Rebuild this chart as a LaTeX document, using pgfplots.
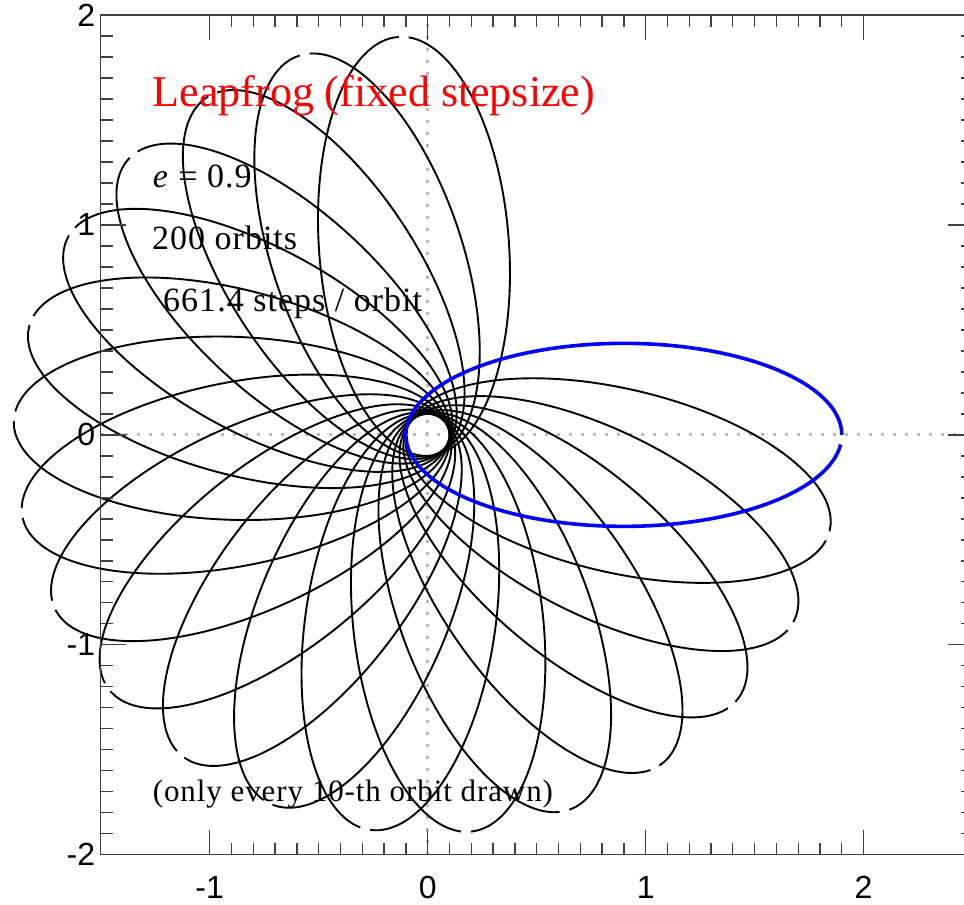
\documentclass[border=0pt]{standalone}
\usepackage{fontspec}
\setmainfont{Liberation Serif}
\newfontfamily\notefont[LetterSpace=3]{Liberation Serif}
\newfontfamily\labelfont{Liberation Sans}
\usepackage{pgfplots}
\pgfplotsset{compat=1.18}
\usepackage{pgfplotstable}

% One Kepler orbit (a = 1, e = 0.9), started at apocentre, focus at the origin
\pgfplotstableread{
x y
1.9000 0.0000
1.8962 0.0380
1.8848 0.0757
1.8659 0.1128
1.8397 0.1491
1.8063 0.1842
1.7660 0.2180
1.7192 0.2500
1.6660 0.2802
1.6071 0.3082
1.5428 0.3339
1.4736 0.3571
1.4000 0.3775
1.3226 0.3951
1.2420 0.4096
1.1588 0.4211
1.0737 0.4293
0.9872 0.4342
0.9000 0.4359
0.8128 0.4342
0.7264 0.4293
0.6412 0.4211
0.5580 0.4096
0.4774 0.3951
0.4000 0.3775
0.3264 0.3571
0.2572 0.3339
0.1929 0.3082
0.1340 0.2802
0.0808 0.2500
0.0340 0.2180
-0.0063 0.1842
-0.0397 0.1491
-0.0659 0.1128
-0.0848 0.0757
-0.0962 0.0380
-0.1000 0.0000
-0.0962 -0.0380
-0.0848 -0.0757
-0.0659 -0.1128
-0.0397 -0.1491
-0.0063 -0.1842
0.0340 -0.2180
0.0808 -0.2500
0.1340 -0.2802
0.1929 -0.3082
0.2572 -0.3339
0.3264 -0.3571
0.4000 -0.3775
0.4774 -0.3951
0.5580 -0.4096
0.6412 -0.4211
0.7264 -0.4293
0.8128 -0.4342
0.9000 -0.4359
0.9872 -0.4342
1.0737 -0.4293
1.1588 -0.4211
1.2420 -0.4096
1.3226 -0.3951
1.4000 -0.3775
1.4736 -0.3571
1.5428 -0.3339
1.6071 -0.3082
1.6660 -0.2802
1.7192 -0.2500
1.7660 -0.2180
1.8063 -0.1842
1.8397 -0.1491
1.8659 -0.1128
1.8848 -0.0757
1.8945 -0.0456
}\orbit

\begin{document}
\begin{tikzpicture}
\begin{axis}[
  scale only axis, width=872pt, height=840pt,
  xmin=-1.5, xmax=2.5, ymin=-2, ymax=2,
  clip=false, axis on top,
  xtick={-1,0,1,2}, ytick={-2,-1,0,1,2},
  minor tick num=9,
  tick align=inside,
  major tick length=25pt, minor tick length=12pt,
  tick style={line width=1.3pt, black!75},
  axis line style={line width=1.3pt, black!75},
  ticklabel style={font=\labelfont\fontsize{32}{38}\selectfont},
  /pgf/number format/assume math mode=true,
  xticklabel style={yshift=-18pt},
  yticklabel style={xshift=-2pt},
]
% zero lines
\addplot[gray!55, line width=3pt, dash pattern=on 3pt off 9pt] coordinates {(-1.5,0) (2.5,0)};
\addplot[gray!55, line width=3pt, dash pattern=on 3pt off 9pt] coordinates {(0,-2) (0,2)};

% every 10th orbit: apocentre direction (degrees) of each drawn orbit
\pgfplotsinvokeforeach{-14,-28,-42,-56,-70,-84,-98,-112,-126,-140,-154,-168,-182,-196,-210,-224,-238,-252,-266}{
  \addplot[black, line width=1.9pt, smooth] table[
    x expr={\thisrow{x}*cos(#1)-\thisrow{y}*sin(#1)},
    y expr={\thisrow{x}*sin(#1)+\thisrow{y}*cos(#1)}] {\orbit};
}
% first orbit
\addplot[blue, line width=3.6pt, smooth] table[x=x, y=y] {\orbit};

\node[anchor=base west, inner sep=0pt, text=red, font=\fontsize{44}{50}\selectfont] at (axis cs:-1.262,1.562) {Leapfrog (fixed stepsize)};
\node[anchor=base west, inner sep=0pt, font=\notefont\fontsize{34}{40}\selectfont] at (axis cs:-1.262,1.176) {\textit{e} = 0.9};
\node[anchor=base west, inner sep=0pt, font=\notefont\fontsize{34}{40}\selectfont] at (axis cs:-1.265,0.881) {200 orbits};
\node[anchor=base west, inner sep=0pt, font=\notefont\fontsize{34}{40}\selectfont] at (axis cs:-1.214,0.586) {661.4 steps / orbit};
\node[anchor=base west, inner sep=0pt, font=\notefont\fontsize{31}{36}\selectfont] at (axis cs:-1.262,-1.748) {(only every 10-th orbit drawn)};

\coordinate (bbsw) at (axis cs:-1.962,-2.238);
\coordinate (bbne) at (axis cs:2.4605,2.071);
\end{axis}
\pgfresetboundingbox
\path[use as bounding box] (bbsw) rectangle (bbne);
\end{tikzpicture}
\end{document}
